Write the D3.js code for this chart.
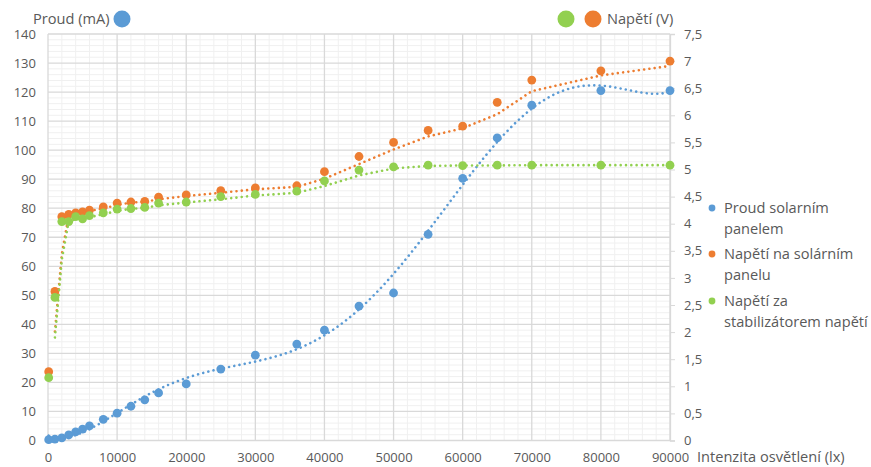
<!DOCTYPE html>
<html><head><meta charset="utf-8">
<script src="https://cdn.jsdelivr.net/npm/d3@7"></script>
<style>body{margin:0;background:#fff} text{font-family:"Open Sans",sans-serif;fill:#595959}</style>
</head><body><svg id="c" width="871" height="467"></svg>
<script>
const lux = [100, 1000, 2000, 3000, 4000, 5000, 6000, 8000, 10000, 12000, 14000, 16000, 20000, 25000, 30000, 36000, 40000, 45000, 50000, 55000, 60000, 65000, 70000, 80000, 90000];
const current = [0.3, 0.5, 0.9, 1.9, 3.0, 3.9, 5.0, 7.3, 9.4, 11.8, 14.0, 16.4, 19.5, 24.6, 29.4, 33.2, 38.0, 46.3, 50.8, 71.0, 90.3, 104.2, 115.5, 120.5, 120.5];
const voltPanel = [1.27, 2.75, 4.13, 4.17, 4.20, 4.22, 4.25, 4.31, 4.38, 4.40, 4.41, 4.49, 4.53, 4.61, 4.66, 4.70, 4.96, 5.24, 5.50, 5.72, 5.80, 6.24, 6.65, 6.82, 7.00];
const voltStab = [1.16, 2.64, 4.04, 4.04, 4.13, 4.09, 4.15, 4.20, 4.27, 4.28, 4.30, 4.38, 4.40, 4.50, 4.54, 4.60, 4.79, 4.99, 5.05, 5.08, 5.07, 5.08, 5.08, 5.08, 5.08];
const xTicks = [0, 10000, 20000, 30000, 40000, 50000, 60000, 70000, 80000, 90000];
const yLeftTicks = [0, 10, 20, 30, 40, 50, 60, 70, 80, 90, 100, 110, 120, 130, 140];
const yRightTicks = [0, 0.5, 1, 1.5, 2, 2.5, 3, 3.5, 4, 4.5, 5, 5.5, 6, 6.5, 7, 7.5];
const legendLabels = [["Proud solarním", "panelem"], ["Napětí na solárním", "panelu"], ["Napětí za", "stabilizátorem napětí"]];
const colors = ["#5b9bd5", "#ed7d31", "#92d050"];
const leftTitle = "Proud (mA)", rightTitle = "Napětí (V)", xTitle = "Intenzita osvětlení (lx)";

const svg = d3.select("#c");
const L = 48, R = 670, T = 34, B = 440.5;
const x = d3.scaleLinear().domain([0, 90000]).range([L, R]);
const yL = d3.scaleLinear().domain([0, 140]).range([B, T]);
const yR = d3.scaleLinear().domain([0, 7.5]).range([B, T]);

// minor grid
const g = svg.append("g");
g.selectAll(".mh").data(d3.range(0, 141, 2).filter(v => v % 10)).join("line")
  .attr("x1", L).attr("x2", R).attr("y1", d => yL(d)).attr("y2", d => yL(d))
  .attr("stroke", "#f0f0f0").attr("stroke-width", 1);
g.selectAll(".mv").data(d3.range(0, 90001, 2000).filter(v => v % 10000)).join("line")
  .attr("y1", T).attr("y2", B).attr("x1", d => x(d)).attr("x2", d => x(d))
  .attr("stroke", "#f0f0f0").attr("stroke-width", 1);
// major grid
g.selectAll(".h").data(yLeftTicks).join("line")
  .attr("x1", L).attr("x2", R).attr("y1", d => yL(d)).attr("y2", d => yL(d))
  .attr("stroke", "#d9d9d9").attr("stroke-width", 1.3);
g.selectAll(".v").data(xTicks).join("line")
  .attr("y1", T).attr("y2", B).attr("x1", d => x(d)).attr("x2", d => x(d))
  .attr("stroke", "#d9d9d9").attr("stroke-width", 1.3);

// axes
const fmt = d => String(d).replace(".", ",");
const ax = svg.append("g").attr("transform", `translate(0,${B})`)
  .call(d3.axisBottom(x).tickValues(xTicks).tickFormat(d3.format("d")).tickSize(0).tickPadding(12));
ax.select(".domain").remove();
const al = svg.append("g").attr("transform", `translate(${L},0)`)
  .call(d3.axisLeft(yL).tickValues(yLeftTicks).tickSize(0).tickPadding(12));
al.select(".domain").remove();
const ar = svg.append("g").attr("transform", `translate(${R},0)`)
  .call(d3.axisRight(yR).tickValues(yRightTicks).tickFormat(fmt).tickSize(5).tickPadding(9));
ar.select(".domain").attr("stroke", "#d9d9d9").attr("stroke-width", 1.3);
ar.selectAll(".tick line").attr("stroke", "#d9d9d9");
svg.selectAll(".tick text").style("font-family", '"Open Sans",sans-serif').style("font-size", "13px").attr("fill", "#595959");

// trendlines
function polyfit(xs, ys, deg) {
  const n = deg + 1;
  const A = d3.range(n).map(() => new Array(n + 1).fill(0));
  xs.forEach((xv, i) => {
    const p = d3.range(2 * n).map(k => Math.pow(xv, k));
    for (let r = 0; r < n; r++) { for (let c = 0; c < n; c++) A[r][c] += p[r + c]; A[r][n] += p[r] * ys[i]; }
  });
  for (let i = 0; i < n; i++) {
    let m = i;
    for (let r = i + 1; r < n; r++) if (Math.abs(A[r][i]) > Math.abs(A[m][i])) m = r;
    [A[i], A[m]] = [A[m], A[i]];
    for (let r = 0; r < n; r++) { if (r === i) continue; const f = A[r][i] / A[i][i]; for (let c = i; c <= n; c++) A[r][c] -= f * A[i][c]; }
  }
  return A.map((row, i) => row[n] / row[i]);
}
const xs01 = lux.map(v => v / 90000);
const coef = polyfit(xs01, current, 6);
const polyPts = d3.range(lux[0], lux[lux.length - 1] + 1, 250).map(v => [v, coef.reduce((s, c, k) => s + c * Math.pow(v / 90000, k), 0)]);
const ma = arr => lux.slice(1).map((v, i) => [v, (arr[i] + arr[i + 1]) / 2]);

const dotted = (sel, col) => sel.attr("fill", "none").attr("stroke", col).attr("stroke-width", 2.6)
  .attr("stroke-linecap", "round").attr("stroke-dasharray", "0.01 5.3");

const series = [
  { vals: current, y: yL, col: colors[0], trend: polyPts },
  { vals: voltPanel, y: yR, col: colors[1], trend: ma(voltPanel) },
  { vals: voltStab, y: yR, col: colors[2], trend: ma(voltStab) }
];
series.forEach(s => {
  const line = d3.line().x(d => x(d[0])).y(d => s.y(d[1]));
  svg.append("g").selectAll("circle").data(lux.map((v, i) => [v, s.vals[i]])).join("circle")
    .attr("cx", d => x(d[0])).attr("cy", d => s.y(d[1])).attr("r", 4.4).attr("fill", s.col);
  dotted(svg.append("path").attr("d", line(s.trend)), s.col);
});

// titles
svg.append("text").attr("x", 33).attr("y", 24).attr("font-size", 14.6).text(leftTitle);
svg.append("circle").attr("cx", 122).attr("cy", 19).attr("r", 8.5).attr("fill", colors[0]);
svg.append("circle").attr("cx", 566).attr("cy", 19).attr("r", 8.5).attr("fill", colors[2]);
svg.append("circle").attr("cx", 593).attr("cy", 19).attr("r", 8.5).attr("fill", colors[1]);
svg.append("text").attr("x", 607).attr("y", 24).attr("font-size", 14.6).text(rightTitle);
svg.append("text").attr("x", 697).attr("y", 462).attr("font-size", 14.6).text(xTitle);

// legend
const lg = svg.append("g");
const legY = [208, 254, 301];
legendLabels.forEach((lines, i) => {
  lg.append("circle").attr("cx", 712).attr("cy", legY[i]).attr("r", 3.4).attr("fill", colors[i]);
  lines.forEach((t, j) => lg.append("text").attr("x", 724).attr("y", legY[i] + 5 + j * 20.5).attr("font-size", 14.6).text(t));
});
</script></body></html>
